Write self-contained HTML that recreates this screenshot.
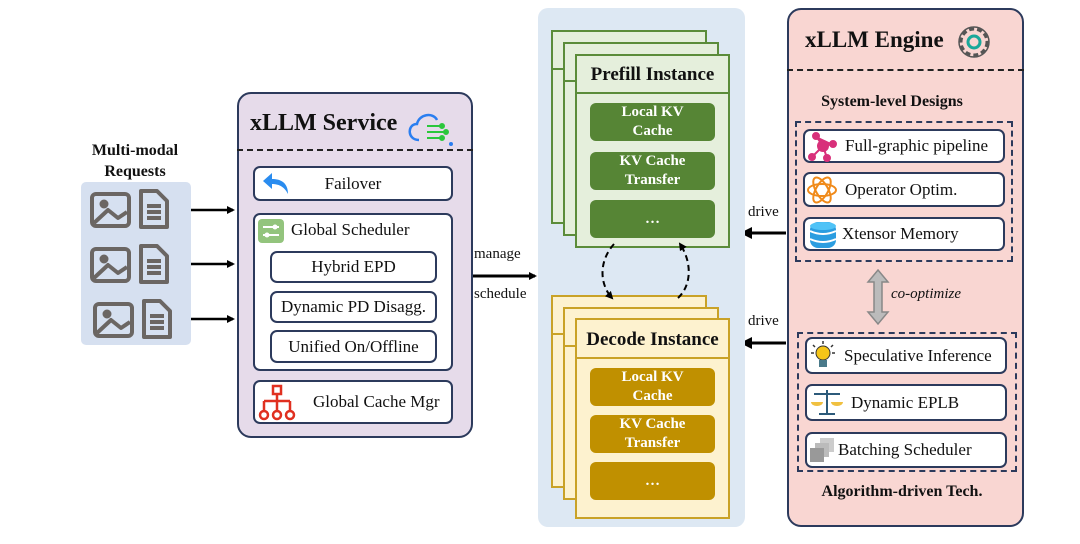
<!DOCTYPE html>
<html><head><meta charset="utf-8"><style>
body{margin:0;width:1080px;height:544px;background:#fff;position:relative;overflow:hidden;font-family:"Liberation Serif",serif;color:#111}
.a{position:absolute;box-sizing:border-box}
.w{background:#fff;border:2px solid #2c3a5c;border-radius:7px;display:flex;align-items:center;font-size:17px;white-space:nowrap}
.c{justify-content:center}
.b{font-weight:bold}
.g{background:#568535;color:#fff;border-radius:6px;font-weight:bold;font-size:15px;text-align:center;display:flex;align-items:center;justify-content:center;line-height:19px}
.y{background:#c09000;color:#fff;border-radius:6px;font-weight:bold;font-size:15px;text-align:center;display:flex;align-items:center;justify-content:center;line-height:19px}
.pf{background:#e5efdc;border:2px solid #5b8c3a}
.dc{background:#fdf2cf;border:2px solid #c9a227}
</style></head><body>
<!-- requests -->
<div class="a b" style="left:75px;top:140px;width:120px;text-align:center;font-size:16px;line-height:21px">Multi-modal<br>Requests</div>
<div class="a" style="left:81px;top:182px;width:110px;height:163px;background:#d6e0f0;border-radius:5px"></div>
<svg class="a" style="left:0;top:0" width="1080" height="544">
<defs><marker id="ar" markerWidth="8" markerHeight="8" refX="6" refY="4" orient="auto" markerUnits="userSpaceOnUse"><path d="M0,0L8,4L0,8z" fill="#000"/></marker>
<marker id="ar2" markerWidth="12" markerHeight="12" refX="10" refY="6" orient="auto" markerUnits="userSpaceOnUse"><path d="M0,0L12,6L0,12z" fill="#000"/></marker></defs>
<g fill="none" stroke="#6b6663" stroke-width="4" stroke-linejoin="round">
<g id="ic"><rect x="92" y="194" width="37" height="32" rx="4"/><path d="M94,223 L108,210 L118,218 L127,212"/><circle cx="104" cy="204" r="2.5" fill="#6b6663"/>
<path d="M141,191 h16 l10,10 v26 h-26z"/><path d="M147,206h14M147,212h14M147,218h14"/></g>
<use href="#ic" y="55"/><use href="#ic" transform="translate(3,110)"/>
</g>
<g stroke="#000" stroke-width="2.5">
<line x1="191" y1="210" x2="233" y2="210" marker-end="url(#ar)"/>
<line x1="191" y1="264" x2="233" y2="264" marker-end="url(#ar)"/>
<line x1="191" y1="319" x2="233" y2="319" marker-end="url(#ar)"/>
<line x1="472" y1="276" x2="535" y2="276" stroke-width="3" marker-end="url(#ar)"/>
<line x1="786" y1="233" x2="742" y2="233" stroke-width="3" marker-end="url(#ar2)"/>
<line x1="786" y1="343" x2="742" y2="343" stroke-width="3" marker-end="url(#ar2)"/>
</g>
</svg>
<!-- service -->
<div class="a" style="left:237px;top:92px;width:236px;height:346px;background:#e6dbea;border:2px solid #2c3a5c;border-radius:14px"></div>
<div class="a b" style="left:250px;top:110px;font-size:24px">xLLM Service</div>
<svg class="a" style="left:405px;top:110px" width="50" height="36"><path d="M14,30 C2,30 2,14 12,14 C14,4 28,2 32,10" fill="none" stroke="#2a7ef0" stroke-width="2.5"/><g stroke="#2bc73c" stroke-width="2" fill="#2bc73c"><line x1="22" y1="16" x2="36" y2="16"/><line x1="22" y1="22" x2="40" y2="22"/><line x1="22" y1="28" x2="36" y2="28"/><circle cx="37" cy="16" r="2"/><circle cx="41" cy="22" r="2"/><circle cx="37" cy="28" r="2"/></g><circle cx="46" cy="34" r="2" fill="#2a7ef0"/></svg>
<div class="a" style="left:237px;top:149px;width:236px;border-top:2px dashed #222"></div>
<div class="a w c" style="left:253px;top:166px;width:200px;height:35px">Failover</div>
<svg class="a" style="left:262px;top:170px" width="30" height="26"><path d="M26,24 C26,12 18,9 10,9 V3 L1,11 L10,19 V14 C16,14 22,16 26,24z" fill="#2a8cef"/></svg>
<div class="a w" style="left:253px;top:213px;width:200px;height:158px;align-items:flex-start"></div>
<svg class="a" style="left:258px;top:219px" width="26" height="24"><rect width="26" height="24" rx="4" fill="#93c47d"/><path d="M5,8h16M5,16h16" stroke="#fff" stroke-width="2"/><circle cx="17" cy="8" r="2.5" fill="#fff"/><circle cx="9" cy="16" r="2.5" fill="#fff"/></svg>
<div class="a" style="left:291px;top:220px;font-size:17px">Global Scheduler</div>
<div class="a w c" style="left:270px;top:251px;width:167px;height:32px">Hybrid EPD</div>
<div class="a w c" style="left:270px;top:291px;width:167px;height:32px">Dynamic PD Disagg.</div>
<div class="a w c" style="left:270px;top:330px;width:167px;height:33px">Unified On/Offline</div>
<div class="a w" style="left:253px;top:380px;width:200px;height:44px;padding-left:58px">Global Cache Mgr</div>
<svg class="a" style="left:258px;top:384px" width="38" height="38" fill="none" stroke="#e03020" stroke-width="2.5"><rect x="15" y="2" width="8" height="8"/><path d="M19,10v7M6,17h26M6,17v9M19,17v9M32,17v9"/><circle cx="6" cy="31" r="4"/><circle cx="19" cy="31" r="4"/><circle cx="32" cy="31" r="4"/></svg>
<div class="a" style="left:474px;top:246px;font-size:15px">manage</div>
<div class="a" style="left:474px;top:286px;font-size:15px">schedule</div>
<!-- middle -->
<div class="a" style="left:538px;top:8px;width:207px;height:519px;background:#dde8f3;border-radius:10px"></div>
<div class="a pf" style="left:551px;top:30px;width:156px;height:194px"></div>
<div class="a" style="left:551px;top:68px;width:12px;border-top:2px solid #5b8c3a"></div>
<div class="a pf" style="left:563px;top:42px;width:156px;height:194px"></div>
<div class="a" style="left:563px;top:80px;width:12px;border-top:2px solid #5b8c3a"></div>
<div class="a pf" style="left:575px;top:54px;width:155px;height:194px"></div>
<div class="a b" style="left:575px;top:54px;width:155px;height:40px;border-bottom:2px solid #5b8c3a;text-align:center;line-height:42px;font-size:19px">Prefill Instance</div>
<div class="a g" style="left:590px;top:103px;width:125px;height:38px">Local KV<br>Cache</div>
<div class="a g" style="left:590px;top:152px;width:125px;height:38px">KV Cache<br>Transfer</div>
<div class="a g" style="left:590px;top:200px;width:125px;height:38px">…</div>
<div class="a dc" style="left:551px;top:295px;width:156px;height:193px"></div>
<div class="a" style="left:551px;top:333px;width:12px;border-top:2px solid #c9a227"></div>
<div class="a dc" style="left:563px;top:307px;width:156px;height:193px"></div>
<div class="a" style="left:563px;top:345px;width:12px;border-top:2px solid #c9a227"></div>
<div class="a dc" style="left:575px;top:318px;width:155px;height:201px"></div>
<div class="a b" style="left:575px;top:318px;width:155px;height:41px;border-bottom:2px solid #c9a227;text-align:center;line-height:44px;font-size:19px;white-space:nowrap">Decode Instance</div>
<div class="a y" style="left:590px;top:368px;width:125px;height:38px">Local KV<br>Cache</div>
<div class="a y" style="left:590px;top:415px;width:125px;height:38px">KV Cache<br>Transfer</div>
<div class="a y" style="left:590px;top:462px;width:125px;height:38px">…</div>
<svg class="a" style="left:0;top:0" width="1080" height="544"><defs><marker id="s" markerWidth="8" markerHeight="8" refX="6" refY="4" orient="auto" markerUnits="userSpaceOnUse"><path d="M0,0L8,4L0,8z" fill="#000"/></marker></defs>
<g fill="none" stroke="#000" stroke-width="2" stroke-dasharray="6,4">
<path d="M614,244 C598,262 600,285 612,298" marker-end="url(#s)"/>
<path d="M678,298 C692,285 692,262 680,244" marker-end="url(#s)"/></g></svg>
<div class="a" style="left:748px;top:204px;font-size:15px">drive</div>
<div class="a" style="left:748px;top:313px;font-size:15px">drive</div>
<!-- engine -->
<div class="a" style="left:787px;top:8px;width:237px;height:519px;background:#f9d6d2;border:2px solid #2c3a5c;border-radius:14px"></div>
<div class="a b" style="left:805px;top:27px;font-size:23px">xLLM Engine</div>
<svg class="a" style="left:953px;top:22px" width="42" height="40"><circle cx="21" cy="20" r="13" fill="none" stroke="#555" stroke-width="3" stroke-dasharray="5,3"/><circle cx="21" cy="20" r="15" fill="none" stroke="#555" stroke-width="1.5"/><circle cx="21" cy="20" r="6" fill="none" stroke="#1aa89a" stroke-width="3"/></svg>
<div class="a" style="left:787px;top:69px;width:237px;border-top:2px dashed #222"></div>
<div class="a b" style="left:787px;top:93px;width:210px;text-align:center;font-size:16px">System-level Designs</div>
<div class="a" style="left:795px;top:121px;width:218px;height:141px;border:2px dashed #2c3a5c"></div>
<div class="a w" style="left:803px;top:129px;width:202px;height:34px;padding-left:40px">Full-graphic pipeline</div>
<div class="a w" style="left:803px;top:172px;width:202px;height:35px;padding-left:40px">Operator Optim.</div>
<div class="a w" style="left:803px;top:217px;width:202px;height:34px;padding-left:37px">Xtensor Memory</div>
<svg class="a" style="left:806px;top:132px" width="32" height="30" fill="#d8307a" stroke="#d8307a" stroke-width="2"><circle cx="10" cy="4" r="3"/><circle cx="17" cy="14" r="5"/><circle cx="27" cy="12" r="3"/><circle cx="6" cy="25" r="3"/><circle cx="21" cy="26" r="3"/><path d="M10,4L17,14L27,12M17,14L6,25M17,14L21,26"/></svg>
<svg class="a" style="left:806px;top:174px" width="32" height="32" fill="none" stroke="#f08a1a" stroke-width="2"><ellipse cx="16" cy="16" rx="14" ry="6"/><ellipse cx="16" cy="16" rx="14" ry="6" transform="rotate(60 16 16)"/><ellipse cx="16" cy="16" rx="14" ry="6" transform="rotate(-60 16 16)"/></svg>
<svg class="a" style="left:808px;top:219px" width="30" height="32"><rect x="2" y="3" width="26" height="26" rx="8" fill="#2b9de0"/><path d="M2,12 q13,6 26,0M2,20 q13,6 26,0" stroke="#fff" stroke-width="2" fill="none"/><ellipse cx="15" cy="7" rx="13" ry="4" fill="#4fc3f7"/></svg>
<svg class="a" style="left:866px;top:268px" width="24" height="58"><path d="M12,2 L22,14 H16 V44 H22 L12,56 L2,44 H8 V14 H2z" fill="#bbb" stroke="#888" stroke-width="1.5"/></svg>
<div class="a" style="left:891px;top:286px;font-size:15px;font-style:italic">co-optimize</div>
<div class="a" style="left:797px;top:332px;width:220px;height:140px;border:2px dashed #2c3a5c"></div>
<div class="a w" style="left:805px;top:337px;width:202px;height:37px;padding-left:37px">Speculative Inference</div>
<div class="a w" style="left:805px;top:384px;width:202px;height:37px;padding-left:44px">Dynamic EPLB</div>
<div class="a w" style="left:805px;top:432px;width:202px;height:36px;padding-left:31px">Batching Scheduler</div>
<svg class="a" style="left:810px;top:340px" width="26" height="30"><circle cx="13" cy="13" r="7" fill="#f5c518" stroke="#333"/><rect x="9" y="20" width="8" height="7" fill="#4a7a8a"/><path d="M13,1v3M3,5l2,2M23,5l-2,2M1,13h3M22,13h3" stroke="#333" stroke-width="1.5"/></svg>
<svg class="a" style="left:810px;top:387px" width="34" height="30"><path d="M17,3v24M9,27h16M4,7h26" stroke="#2c5a7a" stroke-width="2"/><path d="M1,15a6,4 0 0 0 12,0zM21,15a6,4 0 0 0 12,0z" fill="#f0c040"/></svg>
<svg class="a" style="left:808px;top:436px" width="28" height="28"><rect x="12" y="2" width="14" height="14" fill="#ccc"/><rect x="7" y="7" width="14" height="14" fill="#bbb"/><rect x="2" y="12" width="14" height="14" fill="#999"/></svg>
<div class="a b" style="left:787px;top:483px;width:230px;text-align:center;font-size:16px">Algorithm-driven Tech.</div>
</body></html>
